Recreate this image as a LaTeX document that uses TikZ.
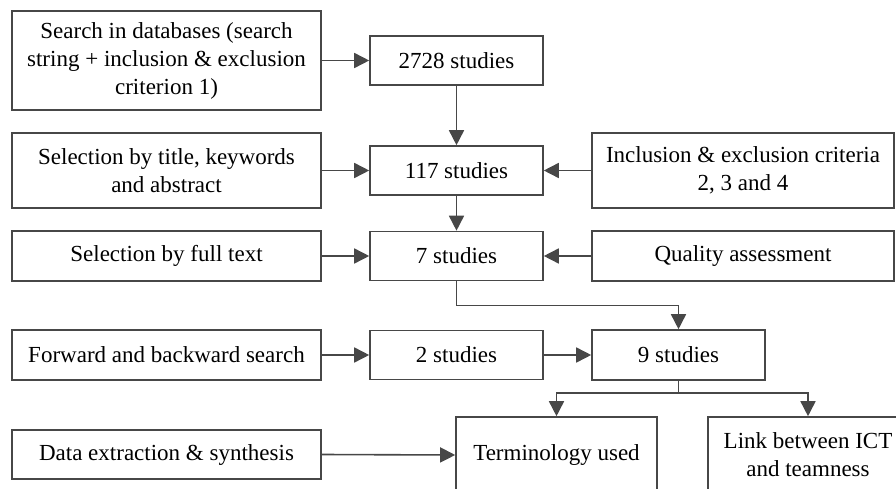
\documentclass[tikz,border=0pt]{standalone}
\usepackage{fontspec}
\setmainfont{Liberation Serif}
\usetikzlibrary{arrows.meta}

\tikzset{
  boxst/.style={draw=black!72, line width=1.6pt, align=center, inner sep=0pt,
    font=\fontsize{23}{28}\selectfont},
  arr/.style={draw=black!72, line width=1.6pt, -{Triangle[length=15pt,width=15pt]}}
}

\begin{document}
\begin{tikzpicture}[x=1pt,y=-1pt]
    \useasboundingbox (0,0) rectangle (896,489);
    \clip (0,0) rectangle (896,489);
    % left column
    \node [boxst, minimum width=309pt, minimum height=99pt] (search) at (166.5,60.5)
        {Search in databases (search\\string + inclusion \& exclusion\\criterion 1)};
    \node [boxst, minimum width=309pt, minimum height=75pt] (title) at (166.5,170.5)
        {Selection by title, keywords\\and abstract};
    \node [boxst, minimum width=309pt, minimum height=50pt] (fulltext) at (166.5,256) {Selection by full text};
    \node [boxst, minimum width=309pt, minimum height=50pt] (forward) at (166.5,355) {Forward and backward search};
    \node [boxst, minimum width=309pt, minimum height=49pt] (data) at (166.5,454.5) {Data extraction \& synthesis};
    % middle column
    \foreach \n/\y/\t in {s2728/60.5/2728, s117/170.5/117, s7/256/7, s2/355/2}
        \node [boxst, minimum width=173pt, minimum height=49pt] (\n) at (456.5,\y) {\t\ studies};
    \node [boxst, minimum width=173pt, minimum height=50pt] (s9) at (678.5,355) {9 studies};
    % right column
    \node [boxst, minimum width=302pt, minimum height=75pt] (incl) at (743,170.5)
        {Inclusion \& exclusion criteria\\2, 3 and 4};
    \node [boxst, minimum width=302pt, minimum height=50pt] (qual) at (743,256) {Quality assessment};
    % results
    \node [boxst, minimum width=201pt, minimum height=76pt] (term) at (556.5,455) {Terminology used};
    \node [boxst, minimum width=200pt, minimum height=76pt] (link) at (808,455) {Link between ICT\\and teamness};
    % arrows
    \foreach \a/\b in {search/s2728, title/s117, fulltext/s7, forward/s2, s2/s9, data/term}
        \draw [arr] (\a.east) -- (\b.west);
    \foreach \a/\b in {incl/s117, qual/s7}
        \draw [arr] (\a.west) -- (\b.east);
    \draw [arr] (s2728) -- (s117);
    \draw [arr] (s117) -- (s7);
    \draw [arr] (s7.south) -- ++(0,24) -| (s9.north);
    \draw [arr] (s9.south) -- ++(0,12) -| (term.north);
    \draw [arr] (s9.south) -- ++(0,12) -| (link.north);
\end{tikzpicture}
\end{document}
